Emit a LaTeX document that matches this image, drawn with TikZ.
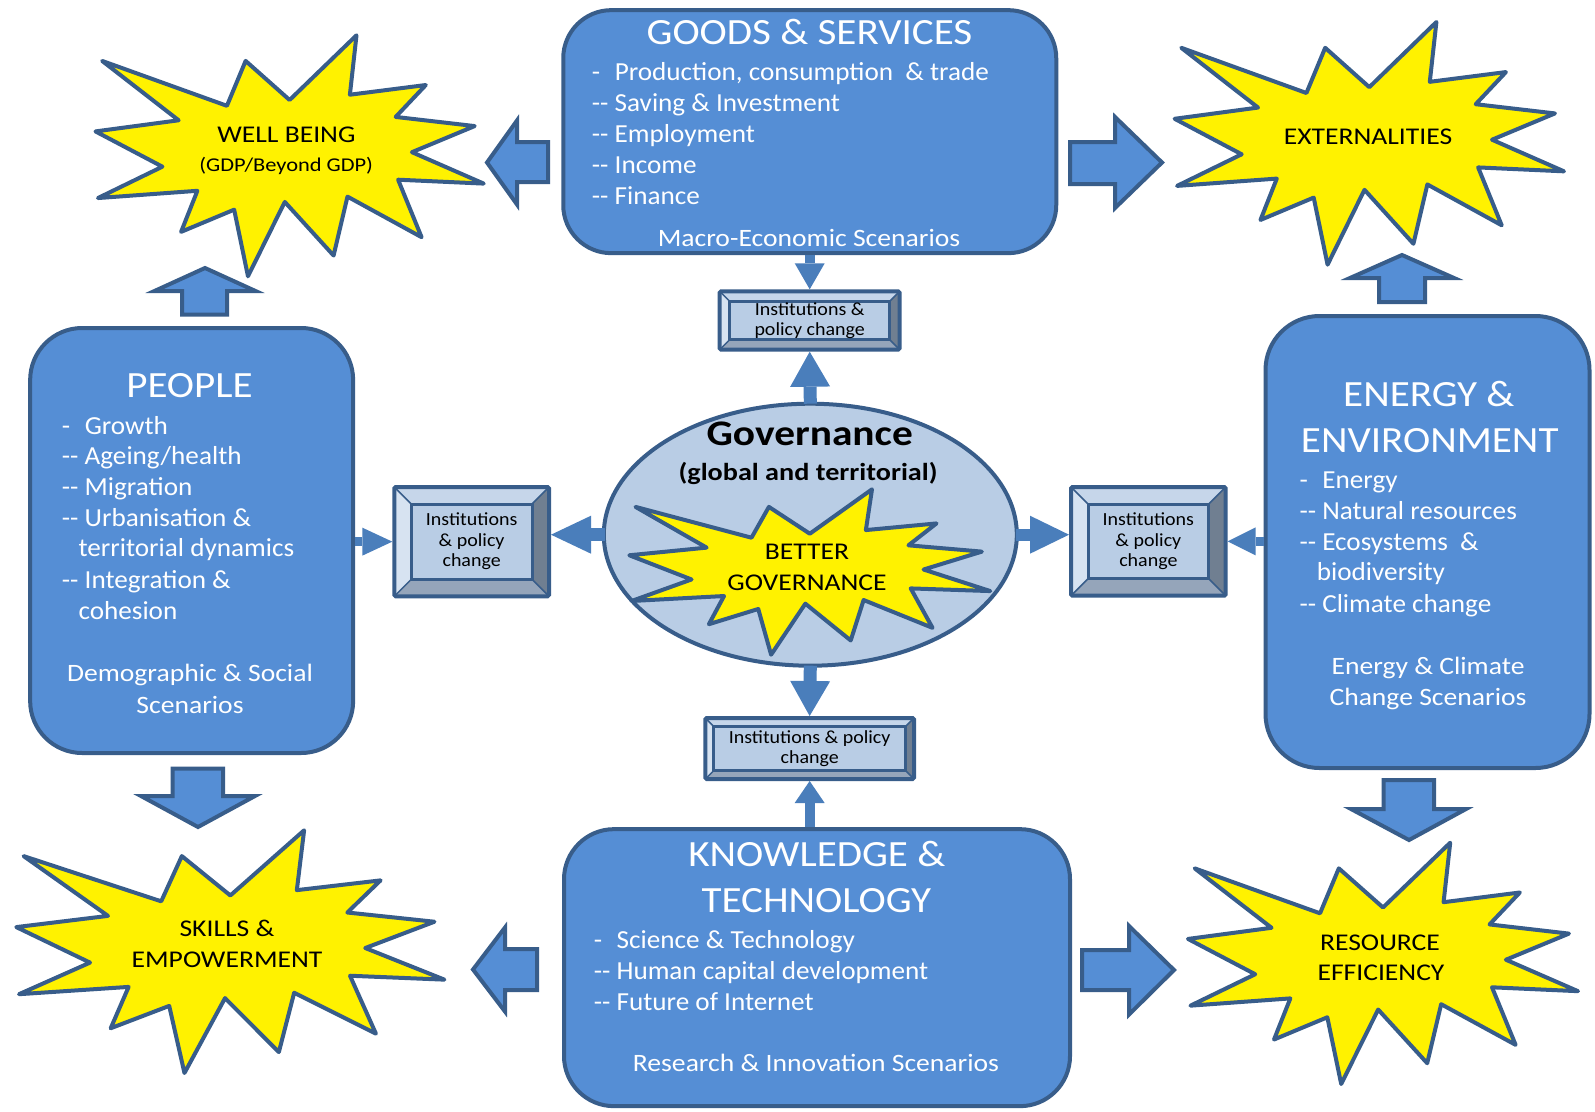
\documentclass[tikz,border=0pt]{standalone}
\usepackage{fontspec}
\setmainfont{Carlito}
\newfontfamily\ftitle{Carlito}[FakeStretch=1.11]
\newfontfamily\fbul{Carlito}[FakeStretch=1.045]
\newfontfamily\ffoot{Carlito}[FakeStretch=1.105]
\newfontfamily\finst{Carlito}[FakeStretch=1.08]
\newfontfamily\fseal{Carlito}[FakeStretch=1.15]
\newfontfamily\fgov{Carlito}[FakeStretch=1.15]
\usetikzlibrary{arrows.meta,calc,shapes.geometric}
\definecolor{boxfill}{RGB}{85,142,213}
\definecolor{edge}{RGB}{56,93,138}
\definecolor{arrowblue}{RGB}{74,126,187}
\definecolor{ellfill}{RGB}{185,205,229}
\definecolor{bvtop}{RGB}{198,214,234}
\definecolor{bvleft}{RGB}{215,227,241}
\definecolor{bvbot}{RGB}{149,165,186}
\definecolor{bvright}{RGB}{112,127,145}
\newcommand\fdash{\makebox[0.88em][l]{-}}
\newcommand\dd{-{}-\ }
\newcommand\sealshape[5]{% name x1 y1 x2 y2
  \begin{scope}[shift={(#2,#3)},xscale=#4-#2,yscale=#5-#3]
  \draw[sealstyle] (0.5,0.2685) -- (0.6723,0) -- (0.6553,0.2465) -- (0.8509,0.2063) -- (0.7732,0.3387) -- (0.9767,0.3767) -- (0.8151,0.4850) -- (1,0.6153) -- (0.7795,0.5992) -- (0.8400,0.8377) -- (0.6491,0.6693) -- (0.6133,0.9138) -- (0.4876,0.6914) -- (0.3928,1) -- (0.3572,0.7235) -- (0.2205,0.8156) -- (0.2624,0.6452) -- (0.0063,0.6753) -- (0.1723,0.5451) -- (0,0.3988) -- (0.2142,0.3526) -- (0.0171,0.1063) -- (0.3385,0.2926) -- (0.3867,0.1063) -- cycle;
  \coordinate (#1) at (0.5,0.5);
  \end{scope}}
\newcommand\bevelfaces[5]{% x1 y1 x2 y2 b
  \fill[bvtop] (#1,#2) -- (#3,#2) -- ({#3-#5},{#2+#5}) -- ({#1+#5},{#2+#5}) -- cycle;
  \fill[bvright] (#3,#2) -- (#3,#4) -- ({#3-#5},{#4-#5}) -- ({#3-#5},{#2+#5}) -- cycle;
  \fill[bvbot] (#3,#4) -- (#1,#4) -- ({#1+#5},{#4-#5}) -- ({#3-#5},{#4-#5}) -- cycle;
  \fill[bvleft] (#1,#4) -- (#1,#2) -- ({#1+#5},{#2+#5}) -- ({#1+#5},{#4-#5}) -- cycle;
  \draw[edge,line width=1.5pt] (#1,#2) -- ({#1+#5},{#2+#5}) (#3,#2) -- ({#3-#5},{#2+#5}) (#3,#4) -- ({#3-#5},{#4-#5}) (#1,#4) -- ({#1+#5},{#4-#5});
  \draw[edge,line width=3pt,fill=ellfill] ({#1+#5},{#2+#5}) rectangle ({#3-#5},{#4-#5});}
\begin{document}
\begin{tikzpicture}[x=1pt,y=-1pt,
  bigbox/.style={draw=edge,line width=4pt,fill=boxfill,inner sep=0pt},
  sealstyle/.style={draw=edge,line width=4pt,fill=yellow,line join=round},
  blockarrow/.style={draw=edge,line width=4pt,fill=boxfill,line join=miter},
  thinarrow/.style={draw=arrowblue},
  instnode/.style={draw=edge,line width=4pt,rounded corners=1.5pt,inner sep=0pt,align=center,font=\finst\fontsize{18.5}{20.5}\selectfont},
  wtitle/.style={text=white,font=\ftitle\fontsize{37}{40}\selectfont,anchor=base,inner sep=0pt},
  wbul/.style={text=white,font=\fbul\fontsize{26}{30}\selectfont,anchor=base west,inner sep=0pt},
  wfoot/.style={text=white,font=\ffoot\fontsize{25}{30}\selectfont,anchor=base,inner sep=0pt},
  slabel/.style={font=\fseal\fontsize{24}{30}\selectfont,anchor=base,inner sep=0pt}]
\useasboundingbox (0,0) rectangle (1595,1111);
\fill[white] (0,0) rectangle (1595,1111);

% big boxes
\node[bigbox,rounded corners=48pt,minimum width=493pt,minimum height=243pt] (goods) at (809.75,131.65) {};
\node[bigbox,rounded corners=52pt,minimum width=323pt,minimum height=425pt] (people) at (191.65,540.5) {};
\node[bigbox,rounded corners=54pt,minimum width=324pt,minimum height=452pt] (energy) at (1427.5,542) {};
\node[bigbox,rounded corners=50pt,minimum width=506pt,minimum height=277pt] (knowledge) at (817,967.65) {};

% governance ellipse
\node[ellipse,draw=edge,line width=4pt,fill=ellfill,minimum width=413pt,minimum height=262pt,inner sep=0pt] (gov) at (810.3,534.7) {};

% seals
\sealshape{wbseal}{95.5}{35.3}{483.7}{276.3}
\sealshape{extseal}{1174.6}{22}{1564}{264.7}
\sealshape{skillseal}{16.3}{830.3}{444.4}{1073}
\sealshape{resseal}{1188}{842.7}{1578}{1084}
\sealshape{betterseal}{629.3}{489.3}{990.3}{654.7}

% institution boxes
\bevelfaces{719.7}{291.3}{899.7}{349.7}{10}
\node[instnode,minimum width=180pt,minimum height=58.4pt] (topinst) at (809.7,320.5) {Institutions \&\\policy change};
\bevelfaces{394.3}{487}{549}{596.3}{17}
\node[instnode,minimum width=154.7pt,minimum height=109.3pt] (leftinst) at (471.65,541.65) {Institutions\\\& policy\\change};
\bevelfaces{1071}{487}{1225.7}{595.7}{17}
\node[instnode,minimum width=154.7pt,minimum height=108.7pt] (rightinst) at (1148.35,541.35) {Institutions\\\& policy\\change};
\bevelfaces{705.3}{718}{914}{779}{8.5}
\node[instnode,minimum width=208.7pt,minimum height=61pt] (botinst) at (809.65,748.5) {Institutions \& policy\\change};

% thin arrows
\draw[thinarrow,line width=10pt,-{Triangle[width=30pt,length=26pt,line width=0pt]}] (topinst.north |- goods.south) -- (topinst.north);
\draw[thinarrow,line width=13pt,-{Triangle[width=40pt,length=35pt,line width=0pt]}] ([yshift=-2pt]gov.north) -- (topinst.south);
\draw[thinarrow,line width=13pt,-{Triangle[width=38pt,length=40pt,line width=0pt]}] ([xshift=3pt]gov.west) -- (leftinst.east |- gov.west);
\draw[thinarrow,line width=9pt,-{Triangle[width=28pt,length=30pt,line width=0pt]}] (leftinst.west -| people.east) -- (leftinst.west);
\draw[thinarrow,line width=12pt,-{Triangle[width=38pt,length=39pt,line width=0pt]}] ([xshift=-3pt]gov.east) -- (rightinst.west |- gov.east);
\draw[thinarrow,line width=9pt,-{Triangle[width=28pt,length=28pt,line width=0pt]}] (rightinst.east -| energy.west) -- (rightinst.east);
\draw[thinarrow,line width=13pt,-{Triangle[width=40pt,length=35pt,line width=0pt]}] ([yshift=2pt]gov.south) -- (botinst.north);
\draw[thinarrow,line width=10pt,-{Triangle[width=30pt,length=22pt,line width=0pt]}] (botinst.south |- knowledge.north) -- (botinst.south);

% block arrows
\draw[blockarrow] (487,162.5) -- (517,120.5) -- (517,142) -- (548,142) -- (548,182) -- (517,182) -- (517,204.5) -- cycle;
\draw[blockarrow] (205,268) -- (255.5,291) -- (227,291) -- (227,314.5) -- (182,314.5) -- (182,291) -- (154.5,291) -- cycle;
\draw[blockarrow] (1070,142) -- (1115,142) -- (1115,117) -- (1162,162.5) -- (1115,208) -- (1115,184) -- (1070,184) -- cycle;
\draw[blockarrow] (1402,255) -- (1454,278) -- (1425,278) -- (1425,302) -- (1379,302) -- (1379,278) -- (1350,278) -- cycle;
\draw[blockarrow] (172.5,768.5) -- (223,768.5) -- (223,796) -- (255,796) -- (198,827) -- (141,796) -- (172.5,796) -- cycle;
\draw[blockarrow] (473,969.5) -- (505,927.5) -- (505,949) -- (537,949) -- (537,990) -- (505,990) -- (505,1011.5) -- cycle;
\draw[blockarrow] (1383.5,780) -- (1434,780) -- (1434,809) -- (1466,809) -- (1409,840) -- (1351,809) -- (1383.5,809) -- cycle;
\draw[blockarrow] (1082,950) -- (1129,950) -- (1129,926) -- (1174,970) -- (1129,1014.5) -- (1129,990) -- (1082,990) -- cycle;

% GOODS text
\node[wtitle] (g0) at (809.5,44.3) {GOODS \& SERVICES};
\node[wbul] (g1) at (591.7,80) {\fdash Production, consumption\ \ \& trade};
\node[wbul] (g2) at (591.7,111) {\dd Saving \& Investment};
\node[wbul] (g3) at (591.7,142.3) {\dd Employment};
\node[wbul] (g4) at (591.7,173.3) {\dd Income};
\node[wbul] (g5) at (591.7,204.3) {\dd Finance};
\node[wfoot] (g6) at (809,246) {Macro-Economic Scenarios};

% PEOPLE text
\node[wtitle] (p0) at (189.5,397.3) {PEOPLE};
\node[wbul] (p1) at (61.7,434) {\fdash Growth};
\node[wbul] (p2) at (61.7,464.3) {\dd Ageing/health};
\node[wbul] (p3) at (61.7,495) {\dd Migration};
\node[wbul] (p4) at (61.7,526) {\dd Urbanisation \&};
\node[wbul] (p5) at (78.3,556.7) {territorial dynamics};
\node[wbul] (p6) at (61.7,588.3) {\dd Integration \&};
\node[wbul] (p7) at (78.3,619.3) {cohesion};
\node[wfoot] (p8) at (190,681) {Demographic \& Social};
\node[wfoot] (p9) at (190,713.3) {Scenarios};

% ENERGY text
\node[wtitle] (e0) at (1428.8,406) {ENERGY \&};
\node[wtitle] (e1) at (1429.7,452.7) {ENVIRONMENT};
\node[wbul] (e2) at (1299.3,488.3) {\fdash Energy};
\node[wbul] (e3) at (1299.3,519) {\dd Natural resources};
\node[wbul] (e4) at (1299.3,550) {\dd Ecosystems\ \ \&};
\node[wbul] (e5) at (1316.7,580) {biodiversity};
\node[wbul] (e6) at (1299.3,612.3) {\dd Climate change};
\node[wfoot] (e7) at (1428,674) {Energy \& Climate};
\node[wfoot] (e8) at (1428,705) {Change Scenarios};

% KNOWLEDGE text
\node[wtitle] (k0) at (816.8,866) {KNOWLEDGE \&};
\node[wtitle] (k1) at (816.4,912.7) {TECHNOLOGY};
\node[wbul] (k2) at (593.6,948.3) {\fdash Science \& Technology};
\node[wbul] (k3) at (593.6,979.3) {\dd Human capital development};
\node[wbul] (k4) at (593.6,1010) {\dd Future of Internet};
\node[wfoot] (k5) at (816,1071.7) {Research \& Innovation Scenarios};

% governance text
\node[font=\fgov\fontsize{36}{40}\selectfont\bfseries,anchor=base,inner sep=0pt] (govt) at (809.7,445) {Governance};
\node[font=\fgov\fontsize{24.5}{28}\selectfont\bfseries,anchor=base,inner sep=0pt] (govs) at (808,480) {(global and territorial)};

% seal labels
\node[slabel] (wb1) at (286.4,142.7) {WELL BEING};
\node[slabel,font=\fseal\fontsize{19.5}{22}\selectfont] (wb2) at (286.2,171.7) {(GDP/Beyond GDP)};
\node[slabel] (ext1) at (1368,144) {EXTERNALITIES};
\node[slabel] (sk1) at (227,936.7) {SKILLS \&};
\node[slabel] (sk2) at (227,967.7) {EMPOWERMENT};
\node[slabel] (re1) at (1380,950) {RESOURCE};
\node[slabel] (re2) at (1381,980) {EFFICIENCY};
\node[slabel] (bg1) at (807,559.3) {BETTER};
\node[slabel] (bg2) at (807,590) {GOVERNANCE};
\end{tikzpicture}
\end{document}
